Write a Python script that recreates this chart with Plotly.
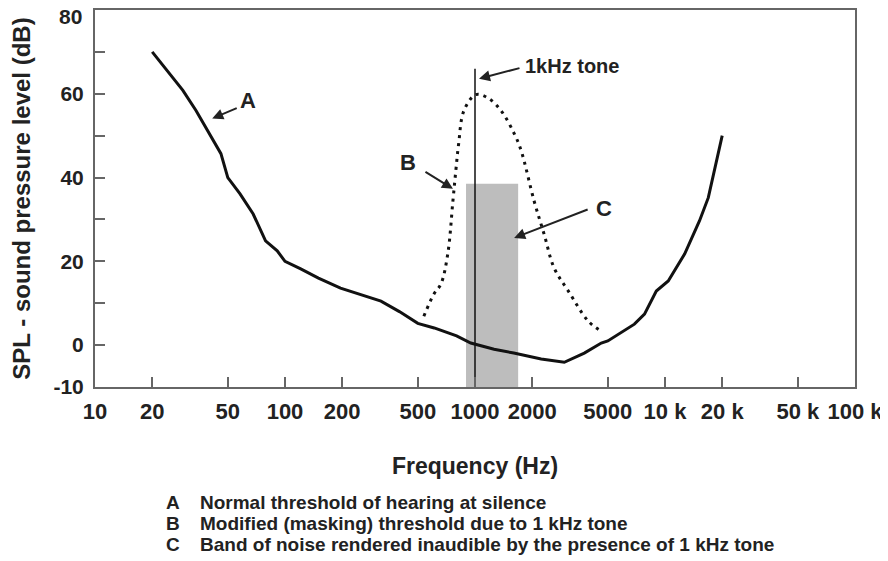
import math
import plotly.graph_objects as go

# ---- data ----
freq_A = [20, 29, 34, 39, 46, 50, 58, 68, 79, 91, 100, 121, 150, 196, 250, 320, 400, 500, 610,
          800, 950, 1260, 1600, 2230, 2950, 3760, 4620, 5000, 6900, 7800, 9000, 10400, 12700,
          15200, 16900, 18200, 20000]
spl_A = [70, 60.8, 56, 51.2, 45.7, 40, 36.1, 31.3, 24.9, 22.5, 20, 18.2, 16, 13.6, 12, 10.5, 8,
         5.2, 4.1, 2.2, 0.5, -1, -1.9, -3.3, -4.1, -1.9, 0.5, 1.0, 5.0, 7.4, 12.9, 15.3, 21.8,
         29.7, 35.2, 41.6, 50]

freq_B = [538, 608, 662, 719, 765, 794, 820, 875, 1011, 1170, 1370, 1608, 1750, 2047, 2310,
          2610, 3100, 3950, 4620]
spl_B = [6.9, 12.2, 14.6, 21.8, 34.4, 42, 48, 56, 59.8, 59, 56, 50.5, 46.4, 34.4, 26.5,
         18.4, 12.9, 5.7, 3.3]

tone_freq = 1000
tone_top = 66
band_low, band_high, band_top = 897, 1687, 38.5
y_bottom = -10
y_top = 80

x_tickvals = [10, 20, 50, 100, 200, 500, 1000, 2000, 5000, 10000, 20000, 50000, 100000]
x_ticktext = ["10", "20", "50", "100", "200", "500", "1000", "2000", "5000", "10 k", "20 k",
              "50 k", "100 k"]
y_tickvals = [-10, 0, 10, 20, 30, 40, 50, 60, 70, 80]
y_ticktext = ["-10", "0", "", "20", "", "40", "", "60", "", ""]
y_top_label = "80"

legend_keys = ["A", "B", "C"]
legend_texts = ["Normal threshold of hearing at silence",
                "Modified (masking) threshold due to 1 kHz tone",
                "Band of noise rendered inaudible by the presence of 1 kHz tone"]

FONT = "Liberation Sans, Arial, sans-serif"
TXT = "#222222"
AX = "#666666"

fig = go.Figure()

# band of noise (C)
fig.add_trace(go.Scatter(
    x=[band_low, band_high, band_high, band_low, band_low],
    y=[y_bottom, y_bottom, band_top, band_top, y_bottom],
    fill="toself", fillcolor="#BDBDBD", line=dict(width=0), mode="lines",
    hoverinfo="skip", showlegend=False))

# curve A
fig.add_trace(go.Scatter(x=freq_A, y=spl_A, mode="lines",
                         line=dict(color="#111111", width=3), showlegend=False))
# curve B
fig.add_trace(go.Scatter(x=freq_B, y=spl_B, mode="lines", line_shape="spline",
                         line=dict(color="#111111", width=3, dash="3px,5px"), showlegend=False))
# 1 kHz tone line
fig.add_trace(go.Scatter(x=[tone_freq, tone_freq], y=[y_bottom, tone_top], mode="lines",
                         line=dict(color="#111111", width=1.5), showlegend=False))

L = math.log10

def arrow(xf, y, ax, ay):
    fig.add_annotation(x=L(xf), y=y, ax=ax, ay=ay, text="", showarrow=True,
                       arrowhead=2, arrowsize=1.1, arrowwidth=2, arrowcolor="#222222")

def label(xf, y, text, size=22, anchor="center"):
    fig.add_annotation(x=L(xf), y=y, text=text, showarrow=False, xanchor=anchor,
                       yanchor="middle",
                       font=dict(family=FONT, size=size, color=TXT, weight="bold"))

arrow(41.4, 54.1, 26, -11)
label(10 ** 1.807, 58.5, "A")
arrow(10 ** 3.021, 63.6, 42, -11)
label(10 ** 3.255, 66.7, "1kHz tone", size=20, anchor="left")
arrow(10 ** 2.884, 37.3, -29, -18)
label(10 ** 2.646, 43.5, "B")
arrow(10 ** 3.206, 25.6, 75, -29)
label(10 ** 3.681, 32.5, "C")

# top y tick label, nudged inside the page
fig.add_annotation(xref="paper", yref="y", x=(84 - 95) / 760, y=y_top, yshift=-6,
                   text=y_top_label, showarrow=False, xanchor="right", yanchor="middle",
                   font=dict(family=FONT, size=21, color=TXT, weight="bold"))

# legend-like text below
for i, (k, t) in enumerate(zip(legend_keys, legend_texts)):
    yp = (387 - (502 + 21 * i)) / 377
    fig.add_annotation(xref="paper", yref="paper", x=(164 - 95) / 760, y=yp, text=k,
                       showarrow=False, xanchor="left", yanchor="middle",
                       font=dict(family=FONT, size=19, color=TXT, weight="bold"))
    fig.add_annotation(xref="paper", yref="paper", x=(198 - 95) / 760, y=yp, text=t,
                       showarrow=False, xanchor="left", yanchor="middle",
                       font=dict(family=FONT, size=19, color=TXT, weight="bold"))

fig.update_layout(
    width=880, height=553,
    margin=dict(l=87, r=33, t=2, b=174),
    plot_bgcolor="white", paper_bgcolor="white",
    showlegend=False,
    font=dict(family=FONT, color=TXT),
)
fig.update_xaxes(
    type="log", range=[1, 5], tickvals=x_tickvals, ticktext=x_ticktext, automargin=False,
    ticks="inside", ticklen=10, tickwidth=2, tickcolor=AX, ticklabelstandoff=4,
    showline=True, linecolor=AX, linewidth=2, mirror=True, showgrid=False, zeroline=False,
    tickfont=dict(family=FONT, size=22, color=TXT, weight="bold"),
    title=dict(text="Frequency (Hz)", standoff=34,
               font=dict(family=FONT, size=23, color=TXT, weight="bold")),
)
fig.update_yaxes(
    range=[y_bottom, y_top], tickvals=y_tickvals, ticktext=y_ticktext, automargin=False,
    ticks="inside", ticklen=10, tickwidth=2, tickcolor=AX, ticklabelstandoff=5,
    showline=True, linecolor=AX, linewidth=2, mirror=True, showgrid=False, zeroline=False,
    tickfont=dict(family=FONT, size=21, color=TXT, weight="bold"),
    title=dict(text="SPL - sound pressure level (dB)", standoff=17,
               font=dict(family=FONT, size=24, color=TXT, weight="bold")),
)

fig.write_html("out.html")
